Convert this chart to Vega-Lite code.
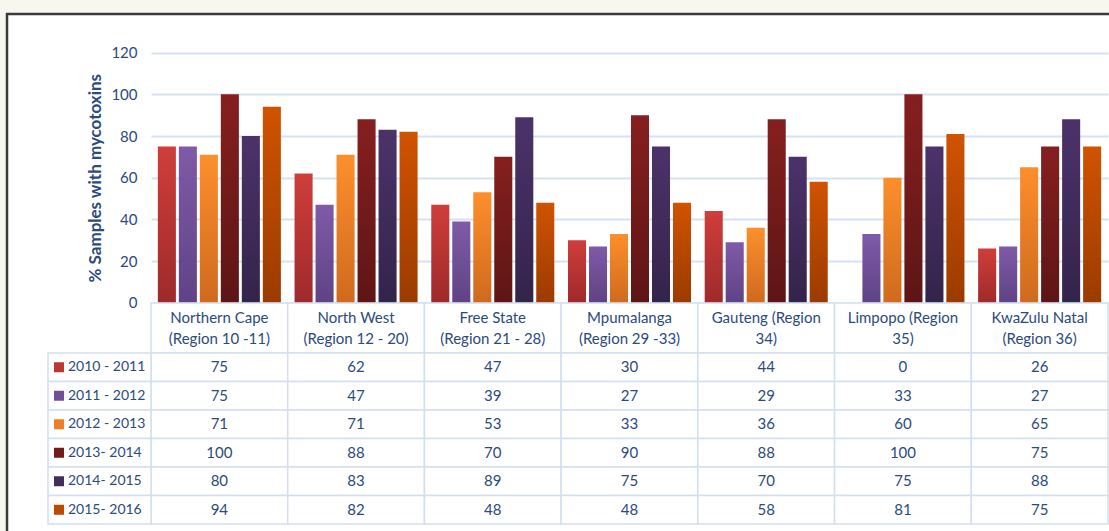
{
  "$schema": "https://vega.github.io/schema/vega-lite/v6.json",
  "width": 1104,
  "height": 519,
  "autosize": "none",
  "padding": {"left": 7, "top": 14, "right": 0, "bottom": 0},
  "background": "#f8f7ef",
  "config": {
    "view": {"fill": "#ffffff", "stroke": "#3a3a3a", "strokeWidth": 2.5},
    "font": "Lato"
  },
  "datasets": {
    "vals": [
      {"region": "Northern Cape\n(Region 10 -11)", "series": "2010 - 2011", "value": 75},
      {"region": "Northern Cape\n(Region 10 -11)", "series": "2011 - 2012", "value": 75},
      {"region": "Northern Cape\n(Region 10 -11)", "series": "2012 - 2013", "value": 71},
      {"region": "Northern Cape\n(Region 10 -11)", "series": "2013- 2014", "value": 100},
      {"region": "Northern Cape\n(Region 10 -11)", "series": "2014- 2015", "value": 80},
      {"region": "Northern Cape\n(Region 10 -11)", "series": "2015- 2016", "value": 94},
      {"region": "North West\n(Region 12 - 20)", "series": "2010 - 2011", "value": 62},
      {"region": "North West\n(Region 12 - 20)", "series": "2011 - 2012", "value": 47},
      {"region": "North West\n(Region 12 - 20)", "series": "2012 - 2013", "value": 71},
      {"region": "North West\n(Region 12 - 20)", "series": "2013- 2014", "value": 88},
      {"region": "North West\n(Region 12 - 20)", "series": "2014- 2015", "value": 83},
      {"region": "North West\n(Region 12 - 20)", "series": "2015- 2016", "value": 82},
      {"region": "Free State\n(Region 21 - 28)", "series": "2010 - 2011", "value": 47},
      {"region": "Free State\n(Region 21 - 28)", "series": "2011 - 2012", "value": 39},
      {"region": "Free State\n(Region 21 - 28)", "series": "2012 - 2013", "value": 53},
      {"region": "Free State\n(Region 21 - 28)", "series": "2013- 2014", "value": 70},
      {"region": "Free State\n(Region 21 - 28)", "series": "2014- 2015", "value": 89},
      {"region": "Free State\n(Region 21 - 28)", "series": "2015- 2016", "value": 48},
      {"region": "Mpumalanga\n(Region 29 -33)", "series": "2010 - 2011", "value": 30},
      {"region": "Mpumalanga\n(Region 29 -33)", "series": "2011 - 2012", "value": 27},
      {"region": "Mpumalanga\n(Region 29 -33)", "series": "2012 - 2013", "value": 33},
      {"region": "Mpumalanga\n(Region 29 -33)", "series": "2013- 2014", "value": 90},
      {"region": "Mpumalanga\n(Region 29 -33)", "series": "2014- 2015", "value": 75},
      {"region": "Mpumalanga\n(Region 29 -33)", "series": "2015- 2016", "value": 48},
      {"region": "Gauteng (Region\n34)", "series": "2010 - 2011", "value": 44},
      {"region": "Gauteng (Region\n34)", "series": "2011 - 2012", "value": 29},
      {"region": "Gauteng (Region\n34)", "series": "2012 - 2013", "value": 36},
      {"region": "Gauteng (Region\n34)", "series": "2013- 2014", "value": 88},
      {"region": "Gauteng (Region\n34)", "series": "2014- 2015", "value": 70},
      {"region": "Gauteng (Region\n34)", "series": "2015- 2016", "value": 58},
      {"region": "Limpopo (Region\n35)", "series": "2010 - 2011", "value": 0},
      {"region": "Limpopo (Region\n35)", "series": "2011 - 2012", "value": 33},
      {"region": "Limpopo (Region\n35)", "series": "2012 - 2013", "value": 60},
      {"region": "Limpopo (Region\n35)", "series": "2013- 2014", "value": 100},
      {"region": "Limpopo (Region\n35)", "series": "2014- 2015", "value": 75},
      {"region": "Limpopo (Region\n35)", "series": "2015- 2016", "value": 81},
      {"region": "KwaZulu Natal\n(Region 36)", "series": "2010 - 2011", "value": 26},
      {"region": "KwaZulu Natal\n(Region 36)", "series": "2011 - 2012", "value": 27},
      {"region": "KwaZulu Natal\n(Region 36)", "series": "2012 - 2013", "value": 65},
      {"region": "KwaZulu Natal\n(Region 36)", "series": "2013- 2014", "value": 75},
      {"region": "KwaZulu Natal\n(Region 36)", "series": "2014- 2015", "value": 88},
      {"region": "KwaZulu Natal\n(Region 36)", "series": "2015- 2016", "value": 75}
    ]
  },
  "data": {"name": "vals"},
  "resolve": {"scale": {"x": "independent", "y": "independent"}},
  "layer": [
    {
      "encoding": {
        "x": {"field": "region", "type": "nominal", "sort": null,
          "scale": {"domain": ["Northern Cape\n(Region 10 -11)", "North West\n(Region 12 - 20)", "Free State\n(Region 21 - 28)", "Mpumalanga\n(Region 29 -33)", "Gauteng (Region\n34)", "Limpopo (Region\n35)", "KwaZulu Natal\n(Region 36)"], "range": [144, 1101], "paddingInner": 0.1, "paddingOuter": 0.05},
          "axis": null},
        "xOffset": {"field": "series", "type": "nominal",
          "scale": {"domain": ["2010 - 2011", "2011 - 2012", "2012 - 2013", "2013- 2014", "2014- 2015", "2015- 2016"], "paddingInner": 0.14, "paddingOuter": 0}},
        "y": {"field": "value", "type": "quantitative",
          "scale": {"domain": [0, 120], "range": [288.7, 38.7], "nice": false, "zero": true},
          "axis": {"values": [0, 20, 40, 60, 80, 100, 120], "offset": -144, "domain": false, "ticks": false,
            "grid": true, "gridColor": "#d6e2f2", "gridWidth": 2,
            "labelPadding": 14, "labelFont": "Lato", "labelFontSize": 15, "labelColor": "#2b4a7e",
            "title": "% Samples with mycotoxins", "titleFont": "Lato", "titleFontSize": 17, "titleFontWeight": "bold", "titleColor": "#2b4a7e", "titlePadding": 6}}
      },
      "layer": [
        {"transform": [{"filter": "datum.series === '2010 - 2011'"}],
         "mark": {"type": "bar", "fill": {"gradient": "linear", "x1": 0, "y1": 0, "x2": 0, "y2": 1, "stops": [{"offset": 0, "color": "#cf3e3a"}, {"offset": 1, "color": "#9e2a2b"}]}}},
        {"transform": [{"filter": "datum.series === '2011 - 2012'"}],
         "mark": {"type": "bar", "fill": {"gradient": "linear", "x1": 0, "y1": 0, "x2": 0, "y2": 1, "stops": [{"offset": 0, "color": "#7f5aa8"}, {"offset": 1, "color": "#5f4384"}]}}},
        {"transform": [{"filter": "datum.series === '2012 - 2013'"}],
         "mark": {"type": "bar", "fill": {"gradient": "linear", "x1": 0, "y1": 0, "x2": 0, "y2": 1, "stops": [{"offset": 0, "color": "#fd8f2b"}, {"offset": 1, "color": "#cf6a1e"}]}}},
        {"transform": [{"filter": "datum.series === '2013- 2014'"}],
         "mark": {"type": "bar", "fill": {"gradient": "linear", "x1": 0, "y1": 0, "x2": 0, "y2": 1, "stops": [{"offset": 0, "color": "#861f1f"}, {"offset": 1, "color": "#5e1515"}]}}},
        {"transform": [{"filter": "datum.series === '2014- 2015'"}],
         "mark": {"type": "bar", "fill": {"gradient": "linear", "x1": 0, "y1": 0, "x2": 0, "y2": 1, "stops": [{"offset": 0, "color": "#4c326a"}, {"offset": 1, "color": "#33244a"}]}}},
        {"transform": [{"filter": "datum.series === '2015- 2016'"}],
         "mark": {"type": "bar", "fill": {"gradient": "linear", "x1": 0, "y1": 0, "x2": 0, "y2": 1, "stops": [{"offset": 0, "color": "#d05300"}, {"offset": 1, "color": "#9b3b00"}]}}}
      ]
    },
    {
      "transform": [{"aggregate": [{"op": "count", "as": "n"}], "groupby": ["region"]}],
      "mark": {"type": "rect", "fill": "#ffffff", "stroke": "#d3def0", "strokeWidth": 1.5},
      "encoding": {
        "x": {"field": "region", "type": "nominal", "sort": null,
          "scale": {"domain": ["Northern Cape\n(Region 10 -11)", "North West\n(Region 12 - 20)", "Free State\n(Region 21 - 28)", "Mpumalanga\n(Region 29 -33)", "Gauteng (Region\n34)", "Limpopo (Region\n35)", "KwaZulu Natal\n(Region 36)"], "range": [144, 1101], "paddingInner": 0, "paddingOuter": 0},
          "axis": null},
        "y": {"datum": "header", "type": "nominal", "scale": {"domain": ["header"], "range": [289, 339], "paddingInner": 0, "paddingOuter": 0}, "axis": null}
      }
    },
    {
      "mark": {"type": "rect", "fill": "#ffffff", "stroke": "#d3def0", "strokeWidth": 1.5},
      "encoding": {
        "x": {"field": "region", "type": "nominal", "sort": null,
          "scale": {"domain": ["Northern Cape\n(Region 10 -11)", "North West\n(Region 12 - 20)", "Free State\n(Region 21 - 28)", "Mpumalanga\n(Region 29 -33)", "Gauteng (Region\n34)", "Limpopo (Region\n35)", "KwaZulu Natal\n(Region 36)"], "range": [144, 1101], "paddingInner": 0, "paddingOuter": 0},
          "axis": null},
        "y": {"field": "series", "type": "nominal", "sort": null,
          "scale": {"domain": ["2010 - 2011", "2011 - 2012", "2012 - 2013", "2013- 2014", "2014- 2015", "2015- 2016"], "range": [339, 510], "paddingInner": 0, "paddingOuter": 0},
          "axis": null}
      }
    },
    {
      "mark": {"type": "text", "font": "Lato", "fontSize": 15, "color": "#2b4a7e", "baseline": "middle", "align": "center"},
      "encoding": {
        "x": {"field": "region", "type": "nominal", "sort": null,
          "scale": {"type": "band", "domain": ["Northern Cape\n(Region 10 -11)", "North West\n(Region 12 - 20)", "Free State\n(Region 21 - 28)", "Mpumalanga\n(Region 29 -33)", "Gauteng (Region\n34)", "Limpopo (Region\n35)", "KwaZulu Natal\n(Region 36)"], "range": [144, 1101], "paddingInner": 0, "paddingOuter": 0},
          "axis": null},
        "y": {"field": "series", "type": "nominal", "sort": null,
          "scale": {"type": "band", "domain": ["2010 - 2011", "2011 - 2012", "2012 - 2013", "2013- 2014", "2014- 2015", "2015- 2016"], "range": [339, 510], "paddingInner": 0, "paddingOuter": 0},
          "axis": null},
        "text": {"field": "value", "type": "quantitative"}
      }
    },
    {
      "transform": [{"aggregate": [{"op": "count", "as": "n"}], "groupby": ["region"]}],
      "mark": {"type": "text", "font": "Lato", "fontSize": 15, "color": "#2b4a7e", "baseline": "middle", "align": "center", "lineBreak": "\n", "lineHeight": 21, "dy": -10.5},
      "encoding": {
        "x": {"field": "region", "type": "nominal", "sort": null,
          "scale": {"type": "band", "domain": ["Northern Cape\n(Region 10 -11)", "North West\n(Region 12 - 20)", "Free State\n(Region 21 - 28)", "Mpumalanga\n(Region 29 -33)", "Gauteng (Region\n34)", "Limpopo (Region\n35)", "KwaZulu Natal\n(Region 36)"], "range": [144, 1101], "paddingInner": 0, "paddingOuter": 0},
          "axis": null},
        "y": {"datum": "header", "type": "nominal", "scale": {"type": "band", "domain": ["header"], "range": [289, 339], "paddingInner": 0, "paddingOuter": 0}, "axis": null},
        "text": {"field": "region", "type": "nominal"}
      }
    },
    {
      "transform": [{"aggregate": [{"op": "count", "as": "n"}], "groupby": ["series"]}],
      "mark": {"type": "rect", "fill": "#ffffff", "stroke": "#d3def0", "strokeWidth": 1.5},
      "encoding": {
        "x": {"datum": "legend", "type": "nominal", "scale": {"domain": ["legend"], "range": [41, 144], "paddingInner": 0, "paddingOuter": 0}, "axis": null},
        "y": {"field": "series", "type": "nominal", "sort": null,
          "scale": {"domain": ["2010 - 2011", "2011 - 2012", "2012 - 2013", "2013- 2014", "2014- 2015", "2015- 2016"], "range": [339, 510], "paddingInner": 0, "paddingOuter": 0},
          "axis": null}
      }
    },
    {
      "transform": [{"aggregate": [{"op": "count", "as": "n"}], "groupby": ["series"]}],
      "mark": {"type": "point", "shape": "square", "filled": true, "opacity": 1, "size": 100, "xOffset": 11},
      "encoding": {
        "x": {"datum": "legend", "type": "nominal", "bandPosition": 0, "scale": {"type": "band", "domain": ["legend"], "range": [41, 144], "paddingInner": 0, "paddingOuter": 0}, "axis": null},
        "y": {"field": "series", "type": "nominal", "sort": null,
          "scale": {"type": "band", "domain": ["2010 - 2011", "2011 - 2012", "2012 - 2013", "2013- 2014", "2014- 2015", "2015- 2016"], "range": [339, 510], "paddingInner": 0, "paddingOuter": 0},
          "axis": null},
        "color": {"field": "series", "type": "nominal",
          "scale": {"domain": ["2010 - 2011", "2011 - 2012", "2012 - 2013", "2013- 2014", "2014- 2015", "2015- 2016"], "range": ["#bd3634", "#725099", "#ef7f27", "#731a1a", "#412c5c", "#bb4a00"]},
          "legend": null}
      }
    },
    {
      "transform": [{"aggregate": [{"op": "count", "as": "n"}], "groupby": ["series"]}],
      "mark": {"type": "text", "font": "Lato", "fontSize": 14, "color": "#2b4a7e", "baseline": "middle", "align": "left", "dx": 20},
      "encoding": {
        "x": {"datum": "legend", "type": "nominal", "bandPosition": 0, "scale": {"type": "band", "domain": ["legend"], "range": [41, 144], "paddingInner": 0, "paddingOuter": 0}, "axis": null},
        "y": {"field": "series", "type": "nominal", "sort": null,
          "scale": {"type": "band", "domain": ["2010 - 2011", "2011 - 2012", "2012 - 2013", "2013- 2014", "2014- 2015", "2015- 2016"], "range": [339, 510], "paddingInner": 0, "paddingOuter": 0},
          "axis": null},
        "text": {"field": "series", "type": "nominal"}
      }
    }
  ]
}
